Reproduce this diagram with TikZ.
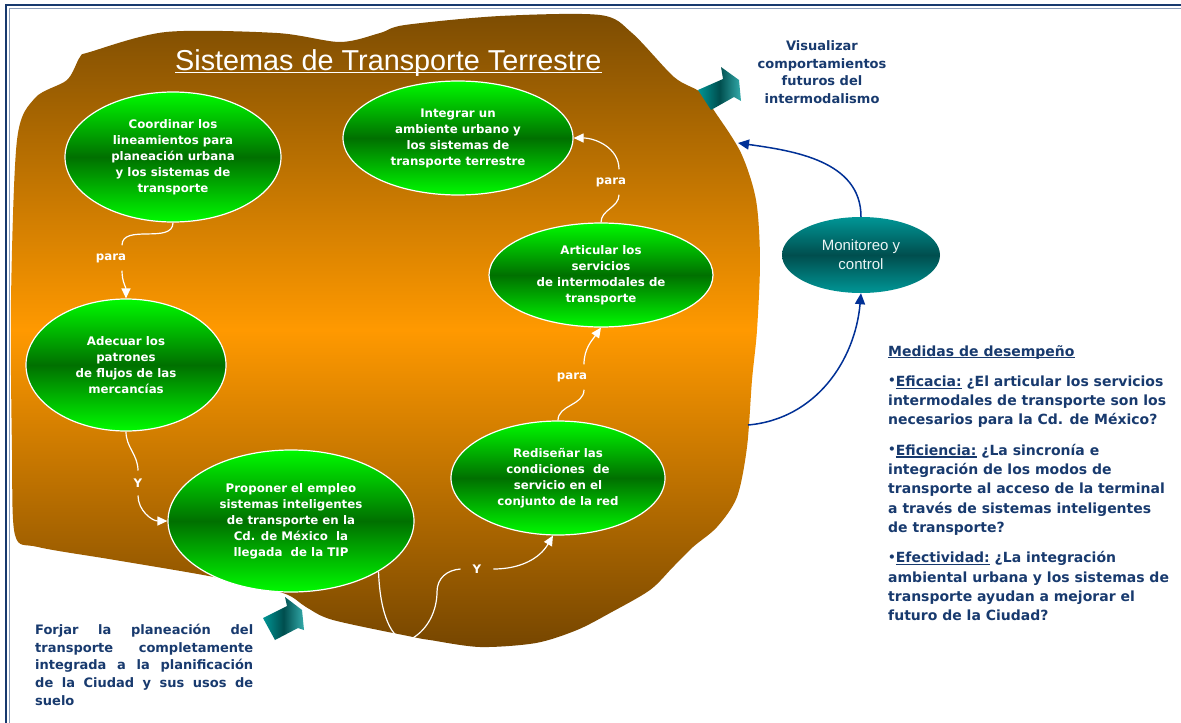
\documentclass[tikz,border=0pt]{standalone}
\usepackage{fontspec}
\setmainfont{DejaVu Sans}
\newfontfamily\thinfont{Liberation Sans}
\usetikzlibrary{shapes.geometric,arrows.meta}
\definecolor{txtblue}{RGB}{24,58,110}
\definecolor{arrblue}{RGB}{0,48,150}
\definecolor{brtop}{RGB}{124,76,2}
\definecolor{brmid}{RGB}{255,153,0}
\definecolor{brbot}{RGB}{118,70,0}
\definecolor{grlt}{RGB}{0,250,0}
\definecolor{grdk}{RGB}{0,112,0}
\definecolor{tllt}{RGB}{0,150,150}
\definecolor{tldk}{RGB}{0,78,78}
\newcommand\undl[1]{\setbox0\hbox{#1}\rlap{\rule[-2.3pt]{\wd0}{1.1pt}}\box0}
\newcommand\bul{\raisebox{1.5pt}{\fontsize{12}{12}\selectfont•}}
\begin{document}
\begin{tikzpicture}[x=1pt,y=-1pt,
  goal/.style={ellipse,draw=white,line width=1.2pt,top color=grlt,bottom color=grlt,middle color=grdk,
    text=white,font=\bfseries\fontsize{11.8}{16}\selectfont,align=center,inner sep=0pt},
  link/.style={white,line width=1.2pt},
  tip/.style={-{Triangle[length=10pt,width=9pt]}},
  lbl/.style={text=white,font=\bfseries\fontsize{11.8}{14}\selectfont,inner xsep=12pt,inner ysep=8pt},
  feedback/.style={arrblue,line width=1.5pt,-{Triangle[length=11pt,width=10pt]}},
  note/.style={text=txtblue,font=\bfseries\fontsize{13}{17.6}\selectfont,inner sep=0pt},
  turn/.style={left color=tllt,right color=tllt!80!white,middle color=tldk}]
    \useasboundingbox (0,0) rectangle (1181,723);
    \fill[white] (0,0) rectangle (1181,723);
    \draw[txtblue,line width=2.5pt] (6,723) -- (6,5) -- (1181,5);
    \draw[txtblue!50,line width=0.6pt] (9.5,723) -- (9.5,8.5) -- (1181,8.5);
    \shade[top color=brtop,bottom color=brbot,middle color=brmid] plot[smooth cycle,tension=0.5] coordinates {
        (90,52) (166,32) (277,33) (340,42) (380,33) (405,25) (500,16) (600,15) (632,33) (674,77)
        (700,92) (715,112) (741,153) (756,200) (760,260) (757,330) (752,380) (747,447) (737,497)
        (717,527) (693,547) (673,567) (650,590) (610,613) (577,630) (536,643) (480,647) (430,640)
        (413,637) (333,620) (306,607) (283,593) (214,577) (115,560) (38,547) (15,535) (12,450)
        (11,300) (17,140) (35,98) (67,80) (80,57)};
    \node[anchor=base west,inner sep=0pt,text=white,font=\thinfont\fontsize{28.8}{30}\selectfont] (title) at (175,70) {Sistemas de Transporte Terrestre};
    \draw[white,line width=1.1pt] ([yshift=-2.6pt]title.base west) -- ([yshift=-2.6pt]title.base east);
    \shade[turn] (698,90) -- (723,79) -- (721,67) -- (739,80) -- (741,101) -- (734,97) -- (711,110) -- cycle;
    \shade[turn] (263,618) -- (287,606) -- (285,597) -- (302,610) -- (304,630) -- (298,628) -- (275,640) -- cycle;
    \node[goal,minimum width=216pt,minimum height=130pt] (coord) at (173,157) {Coordinar los\\lineamientos para\\planeación urbana\\y los sistemas de\\transporte};
    \node[goal,minimum width=230pt,minimum height=114pt] (integ) at (458,138) {Integrar un\\ambiente urbano y\\los sistemas de\\transporte terrestre};
    \node[goal,minimum width=200pt,minimum height=132pt] (adec) at (126,365) {Adecuar los\\patrones\\de flujos de las\\mercancías};
    \node[goal,minimum width=246pt,minimum height=142pt] (prop) at (291,521) {Proponer el empleo\\sistemas inteligentes\\de transporte en la\\Cd. de México~ la\\llegada~ de la TIP};
    \node[goal,minimum width=214pt,minimum height=114pt] (redis) at (558,478) {Rediseñar las\\condiciones~ de\\servicio en el\\conjunto de la red};
    \node[goal,minimum width=224pt,minimum height=104pt] (artic) at (601,275) {Articular los\\servicios\\de intermodales de\\transporte};
    \node[ellipse,minimum width=158pt,minimum height=76pt,inner sep=0pt,top color=tllt,bottom color=tllt,middle color=tldk,
        text=white!92!teal,font=\thinfont\fontsize{15}{19}\selectfont,align=center] (mon) at (861,255) {Monitoreo y\\control};
    \node[lbl] (p1) at (111,258) {para};
    \node[lbl] (p2) at (572,377) {para};
    \node[lbl] (p3) at (611,182) {para};
    \node[lbl] (y1) at (138,483) {Y};
    \node[lbl] (y2) at (477,569) {Y};
    \draw[link] (coord.south) to[out=-90,in=90] ([xshift=11pt]p1.north);
    \draw[link,tip] ([xshift=11pt]p1.south) to[out=-90,in=90] (adec.north);
    \draw[link] (adec.south) to[out=-90,in=90] (y1.north);
    \draw[link,tip] (y1.south) to[out=-90,in=180] (prop.west);
    \draw[link] (prop.-30) .. controls (380,615) and (392,640) .. (407,641)
        .. controls (428,632) and (437,610) .. (437,592) .. controls (437,578) and (447,570) .. (y2.west);
    \draw[link,tip] (y2.east) to[out=0,in=-120] (redis.-95);
    \draw[link] (redis.north) to[out=90,in=-90] ([xshift=12pt]p2.south);
    \draw[link,tip] ([xshift=12pt]p2.north) to[out=90,in=-125] (artic.south);
    \draw[link] (artic.north) to[out=90,in=-90] ([xshift=8pt]p3.south);
    \draw[link,tip] ([xshift=8pt]p3.north) to[out=90,in=0] (integ.east);
    \coordinate (fut) at (738,143);
    \coordinate (perf) at (748,425);
    \draw[feedback] (mon.north) to[out=90,in=-8] (fut);
    \draw[feedback] (perf) to[out=5,in=-95] (mon.south);
    \node[note,align=center] (vis) at (822,72) {Visualizar\\comportamientos\\futuros del\\intermodalismo};
    \node[note,anchor=north west,text width=218pt,align=justify] (forj) at (35,624) {Forjar la planeación del\linebreak transporte completamente\linebreak integrada a la planificación\linebreak de la Ciudad y sus usos de\linebreak suelo};
    \node[note,anchor=north west,align=left,font=\bfseries\fontsize{14}{19.3}\selectfont] (med) at (888,345) {\undl{Medidas de desempeño}\\[11pt]
        \bul\undl{Eficacia:}\ ¿El articular los servicios\\intermodales de transporte son los\\necesarios para la Cd. de México?\\[11pt]
        \bul\undl{Eficiencia:}\ ¿La sincronía e\\integración de los modos de\\transporte al acceso de la terminal\\a través de sistemas inteligentes\\de transporte?\\[11pt]
        \bul\undl{Efectividad:}\ ¿La integración\\ambiental urbana y los sistemas de\\transporte ayudan a mejorar el\\futuro de la Ciudad?};
\end{tikzpicture}
\end{document}
